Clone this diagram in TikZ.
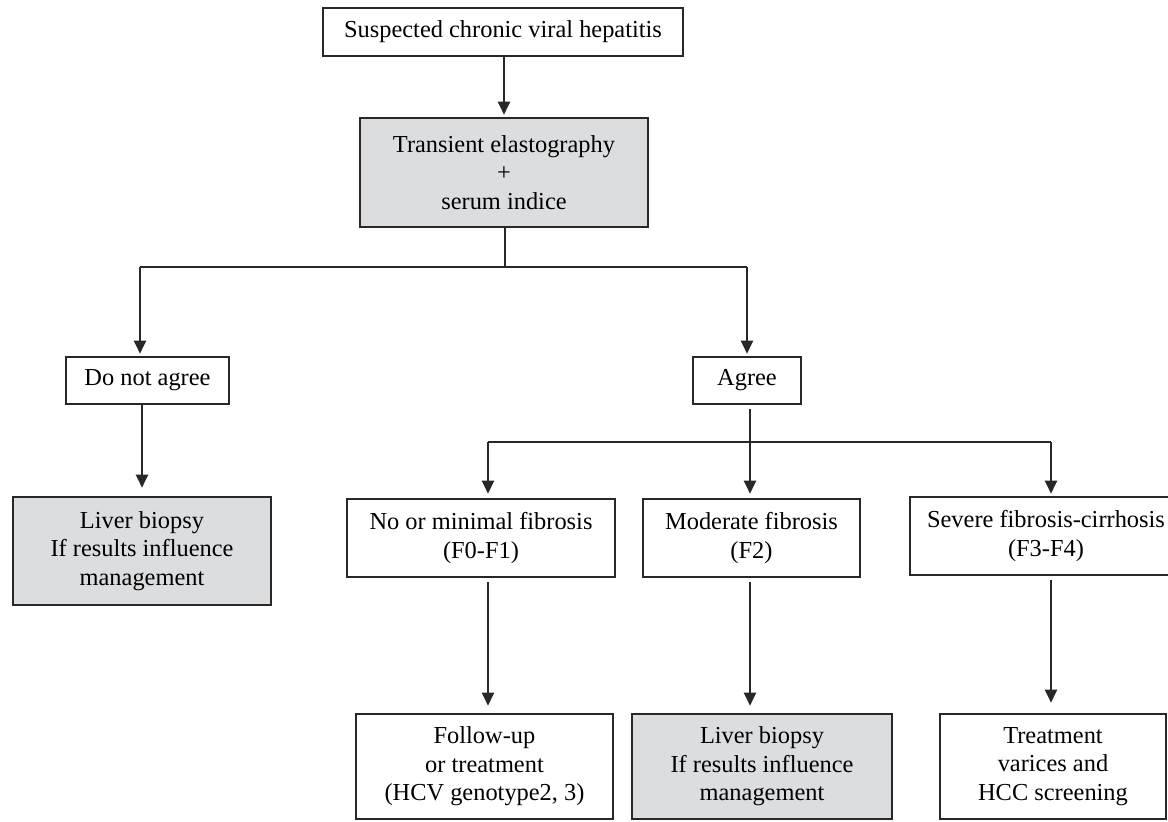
\documentclass[tikz,border=0pt]{standalone}
\usepackage{fontspec}
\setmainfont{Liberation Serif}
\usetikzlibrary{arrows.meta}
\definecolor{ink}{RGB}{40,40,40}
\definecolor{boxgray}{RGB}{220,221,223}
\tikzset{
  box/.style={draw=ink, line width=1.3pt, align=center, inner sep=0pt,
    font=\fontsize{12.2}{14.2}\selectfont},
  shaded/.style={box, fill=boxgray},
  link/.style={draw=ink, line width=1.1pt},
  arr/.style={link, -{Triangle[length=6.5pt,width=6pt]}, shorten >=1pt},
}
\begin{document}
\begin{tikzpicture}[x=0.5pt,y=-0.5pt]
	\useasboundingbox (0,0) rectangle (1168,821);
	% first two steps
	\node[box, minimum width=180pt, minimum height=24pt] (suspect) at (503,32) {Suspected chronic viral hepatitis};
	\node[shaded, minimum width=144pt, minimum height=54.5pt] (elasto) at (504,172.5) {Transient elastography\\+\\serum indice};
	\draw[arr] (suspect.south -| elasto) -- (elasto.north);
	% agreement or not
	\node[box, minimum width=81.5pt, minimum height=23.5pt] (disagree) at (147.5,380.5) {Do not agree};
	\node[box, minimum width=54pt, minimum height=23.5pt] (agree) at (747,380.5) {Agree};
	\coordinate (split) at (505,267);
	\coordinate (lanel) at (140,267);
	\coordinate (laner) at (747,267);
	\draw[link] (elasto.south -| split) -- (split);
	\draw[link] (lanel) -- (laner);
	\draw[arr] (lanel) -- (lanel |- disagree.north);
	\draw[arr] (laner) -- (agree.north);
	% no agreement
	\node[shaded, minimum width=129pt, minimum height=54pt] (biopsyl) at (142,551) {Liver biopsy\\If results influence\\management};
	\draw[arr, shorten >=4pt] (disagree.south -| biopsyl) -- (biopsyl.north);
	% the three fibrosis stages
	\node[box, minimum width=134pt, minimum height=39pt] (minfib) at (481,538) {No or minimal fibrosis\\(F0-F1)};
	\node[box, minimum width=108.5pt, minimum height=39pt] (modfib) at (751.5,538) {Moderate fibrosis\\(F2)};
	\node[box, minimum width=136pt, minimum height=39pt] (sevfib) at (1046,536) {Severe fibrosis-cirrhosis\\(F3-F4)};
	\coordinate (fork) at (750,442);
	\coordinate (lane1) at (488,442);
	\coordinate (lane3) at (1051,442);
	\draw[link, shorten <=2pt] (fork |- agree.south) -- (fork);
	\draw[link] (lane1) -- (lane3);
	\draw[arr, shorten >=2pt] (lane1) -- (lane1 |- minfib.north);
	\draw[arr, shorten >=2pt] (fork) -- (fork |- modfib.north);
	\draw[arr] (lane3) -- (lane3 |- sevfib.north);
	% what to do next
	\node[box, minimum width=128.5pt, minimum height=52.5pt] (follow) at (484.5,766.5) {Follow-up\\or treatment\\(HCV genotype2, 3)};
	\node[shaded, minimum width=130pt, minimum height=52.5pt] (biopsym) at (762,766.5) {Liver biopsy\\If results influence\\management};
	\node[box, minimum width=113pt, minimum height=52.5pt] (treat) at (1053,766.5) {Treatment\\varices and\\HCC screening};
	\draw[arr, shorten <=2pt, shorten >=3.5pt] (lane1 |- minfib.south) -- (lane1 |- follow.north);
	\draw[arr, shorten <=2pt, shorten >=3.5pt] (fork |- modfib.south) -- (fork |- biopsym.north);
	\draw[arr, shorten <=2pt, shorten >=5pt] (lane3 |- sevfib.south) -- (lane3 |- treat.north);
\end{tikzpicture}
\end{document}
